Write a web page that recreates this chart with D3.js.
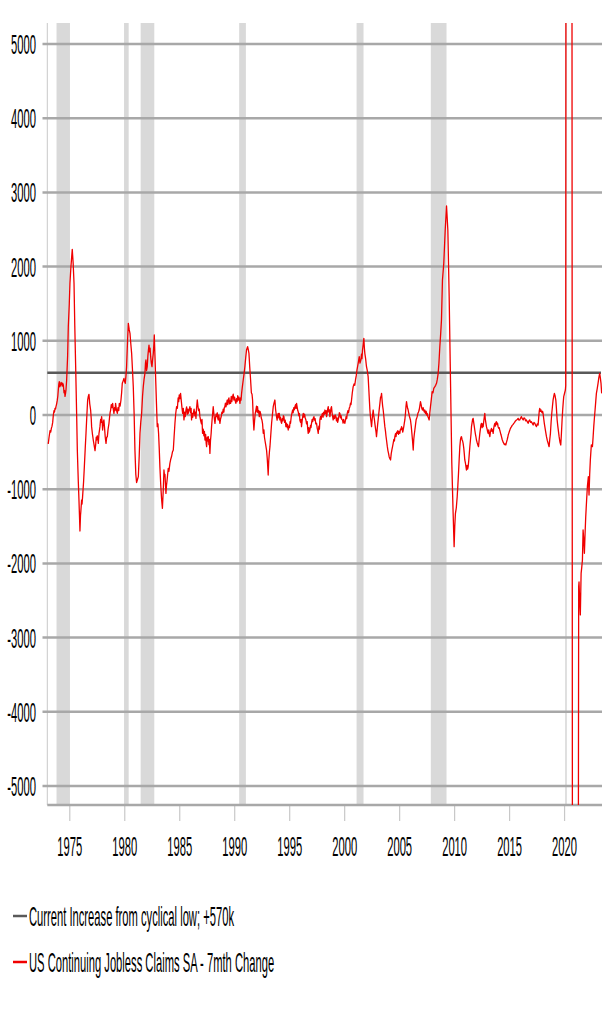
<!DOCTYPE html>
<html><head><meta charset="utf-8">
<script src="https://cdn.jsdelivr.net/npm/d3@7"></script>
<style>body{margin:0;background:#fff}</style>
</head><body>
<svg id="chart" width="616" height="1022"></svg>
<script>
// ---------------- data ----------------
const yTickValues = [5000, 4000, 3000, 2000, 1000, 0, -1000, -2000, -3000, -4000, -5000];
const xTickYears = [1975, 1980, 1985, 1990, 1995, 2000, 2005, 2010, 2015, 2020];
const recessionStart = [1973.84, 1979.98, 1981.49, 1990.45, 2001.13, 2007.88, 2020.10];
const recessionEnd   = [1975.06, 1980.40, 1982.73, 1991.06, 2001.76, 2009.31, 2020.25];
const currentIncrease = 570;
const legendLabels = ["Current Increase from cyclical low; +570k", "US Continuing Jobless Claims SA - 7mth Change"];
// [decimal year, 7-month change in thousands]
const claimsChange7m = [
[1973.02,-380],[1973.09,-382],[1973.16,-300],[1973.25,-210],[1973.31,-230],[1973.37,-180],[1973.43,-150],[1973.49,-100],
[1973.55,0],[1973.61,60],[1973.66,40],[1973.70,90],[1973.75,80],[1973.79,112],[1973.85,150],[1973.91,200],[1973.96,260],
[1974.00,337],[1974.05,420],[1974.09,449],[1974.14,380],[1974.20,400],[1974.25,440],[1974.31,427],[1974.36,390],
[1974.40,430],[1974.46,404],[1974.52,300],[1974.57,330],[1974.61,250],[1974.66,290],[1974.70,337],[1974.76,472],
[1974.85,800],[1974.91,1190],[1975.00,1500],[1975.06,1775],[1975.15,2000],[1975.27,2233],[1975.35,2050],[1975.43,1775],
[1975.50,1200],[1975.58,651],[1975.67,0],[1975.73,-472],[1975.82,-900],[1975.88,-1146],[1975.97,-1563],[1976.02,-1350],
[1976.05,-1300],[1976.12,-1146],[1976.16,-1200],[1976.21,-1100],[1976.30,-900],[1976.37,-696],[1976.45,-450],
[1976.52,-247],[1976.60,0],[1976.67,202],[1976.73,250],[1976.79,279],[1976.86,150],[1976.94,67],[1977.00,-60],
[1977.03,-157],[1977.10,-250],[1977.18,-337],[1977.25,-400],[1977.34,-481],[1977.40,-400],[1977.45,-300],[1977.49,-337],
[1977.55,-280],[1977.60,-330],[1977.64,-382],[1977.70,-250],[1977.75,-200],[1977.79,-157],[1977.85,-60],[1977.90,-100],
[1977.94,-22],[1978.00,-120],[1978.03,-202],[1978.09,-100],[1978.15,-67],[1978.20,-160],[1978.27,-300],[1978.34,-382],
[1978.40,-300],[1978.46,-292],[1978.52,-200],[1978.57,-150],[1978.61,-112],[1978.67,-20],[1978.72,40],[1978.76,67],
[1978.82,140],[1978.88,100],[1978.94,157],[1979.00,80],[1979.06,22],[1979.12,100],[1979.17,60],[1979.21,157],
[1979.27,90],[1979.32,50],[1979.37,22],[1979.43,100],[1979.50,60],[1979.55,157],[1979.62,120],[1979.70,202],
[1979.76,300],[1979.82,427],[1979.90,460],[1979.97,494],[1980.03,450],[1980.09,427],[1980.15,520],[1980.21,651],
[1980.30,1000],[1980.37,1235],[1980.45,1150],[1980.52,1100],[1980.60,950],[1980.67,831],[1980.75,600],[1980.82,382],
[1980.90,0],[1980.97,-472],[1981.05,-800],[1981.12,-910],[1981.20,-870],[1981.28,-831],[1981.36,-550],[1981.43,-247],
[1981.50,-100],[1981.58,22],[1981.66,250],[1981.73,382],[1981.80,480],[1981.88,562],[1981.93,700],[1981.97,741],
[1982.03,600],[1982.09,651],[1982.15,800],[1982.20,880],[1982.25,943],[1982.30,850],[1982.35,900],[1982.40,786],
[1982.46,700],[1982.52,651],[1982.58,750],[1982.64,831],[1982.69,950],[1982.73,1078],[1982.79,800],[1982.85,517],
[1982.93,150],[1983.00,-157],[1983.06,-120],[1983.12,-247],[1983.18,-450],[1983.24,-696],[1983.32,-950],[1983.40,-1146],
[1983.47,-1258],[1983.55,-1000],[1983.61,-741],[1983.66,-820],[1983.70,-800],[1983.79,-1056],[1983.84,-950],
[1983.88,-900],[1984.00,-720],[1984.06,-760],[1984.15,-651],[1984.22,-600],[1984.30,-560],[1984.38,-500],[1984.46,-472],
[1984.53,-300],[1984.61,-112],[1984.68,20],[1984.76,112],[1984.83,90],[1984.90,230],[1984.95,180],[1985.00,270],
[1985.06,220],[1985.12,292],[1985.18,200],[1985.24,110],[1985.31,22],[1985.37,90],[1985.43,-67],[1985.50,40],
[1985.55,-20],[1985.61,67],[1985.67,110],[1985.73,10],[1985.78,80],[1985.82,22],[1985.90,70],[1985.97,112],
[1986.03,30],[1986.08,90],[1986.12,-67],[1986.18,20],[1986.23,-30],[1986.28,22],[1986.35,80],[1986.42,-10],
[1986.47,40],[1986.52,-45],[1986.58,100],[1986.64,202],[1986.70,120],[1986.76,60],[1986.82,80],[1986.88,-22],
[1986.95,-80],[1987.02,-120],[1987.07,-60],[1987.12,-247],[1987.18,-190],[1987.24,-280],[1987.29,-220],[1987.34,-337],
[1987.40,-260],[1987.45,-380],[1987.49,-427],[1987.55,-300],[1987.60,-350],[1987.64,-292],[1987.70,-400],[1987.74,-330],
[1987.79,-517],[1987.84,-350],[1987.90,-250],[1987.94,-157],[1988.00,-40],[1988.04,20],[1988.09,112],[1988.14,30],
[1988.20,-60],[1988.25,-112],[1988.30,-40],[1988.35,10],[1988.40,-22],[1988.46,30],[1988.50,-40],[1988.55,-67],
[1988.60,0],[1988.65,-60],[1988.70,-112],[1988.76,-50],[1988.82,-20],[1988.88,40],[1988.94,22],[1989.00,80],
[1989.06,40],[1989.10,100],[1989.15,112],[1989.20,160],[1989.25,110],[1989.31,157],[1989.36,200],[1989.41,140],
[1989.46,202],[1989.52,230],[1989.57,150],[1989.62,190],[1989.67,157],[1989.73,250],[1989.78,180],[1989.85,247],
[1989.91,280],[1989.97,202],[1990.03,240],[1990.09,190],[1990.15,157],[1990.21,220],[1990.26,180],[1990.32,260],
[1990.37,202],[1990.43,240],[1990.48,200],[1990.52,157],[1990.58,230],[1990.62,200],[1990.67,292],[1990.74,380],
[1990.82,472],[1990.90,560],[1990.97,651],[1991.05,780],[1991.12,876],[1991.17,900],[1991.22,921],[1991.28,880],
[1991.34,831],[1991.41,650],[1991.49,472],[1991.56,300],[1991.62,280],[1991.67,202],[1991.73,-50],[1991.79,-202],
[1991.85,-80],[1991.91,20],[1991.97,67],[1992.03,120],[1992.08,40],[1992.12,112],[1992.18,30],[1992.23,60],
[1992.28,-22],[1992.34,50],[1992.40,22],[1992.46,-40],[1992.52,-67],[1992.58,-120],[1992.64,-247],[1992.70,-200],
[1992.75,-300],[1992.79,-337],[1992.86,-400],[1992.94,-472],[1993.00,-580],[1993.05,-700],[1993.09,-809],[1993.14,-620],
[1993.20,-500],[1993.25,-427],[1993.32,-280],[1993.40,-112],[1993.46,-20],[1993.50,40],[1993.55,112],[1993.62,160],
[1993.70,202],[1993.76,80],[1993.80,30],[1993.85,-22],[1993.90,-70],[1993.95,-10],[1994.00,22],[1994.06,-40],
[1994.10,20],[1994.15,-67],[1994.21,-30],[1994.26,-90],[1994.31,-112],[1994.37,-50],[1994.42,-80],[1994.47,-10],
[1994.52,-22],[1994.58,-100],[1994.64,-70],[1994.70,-157],[1994.76,-110],[1994.82,-170],[1994.86,-130],[1994.91,-202],
[1994.97,-150],[1995.03,-170],[1995.08,-90],[1995.12,-112],[1995.18,-30],[1995.24,20],[1995.31,67],[1995.36,30],
[1995.42,100],[1995.47,70],[1995.52,112],[1995.58,140],[1995.62,90],[1995.67,157],[1995.72,110],[1995.78,60],
[1995.82,45],[1995.88,-10],[1995.93,20],[1995.97,-67],[1996.03,-100],[1996.08,-60],[1996.12,-157],[1996.18,-80],
[1996.23,-20],[1996.28,22],[1996.34,-30],[1996.40,10],[1996.46,-40],[1996.52,-67],[1996.58,-120],[1996.64,-90],
[1996.68,-180],[1996.73,-247],[1996.78,-170],[1996.83,-230],[1996.88,-202],[1996.94,-140],[1996.98,-170],[1997.03,-112],
[1997.09,-60],[1997.14,-90],[1997.20,-40],[1997.25,-22],[1997.31,-70],[1997.36,-50],[1997.42,-120],[1997.49,-112],
[1997.55,-180],[1997.60,-210],[1997.64,-247],[1997.70,-150],[1997.75,-190],[1997.79,-67],[1997.85,-20],[1997.91,-60],
[1997.97,0],[1998.03,22],[1998.08,-30],[1998.14,40],[1998.20,10],[1998.25,67],[1998.31,20],[1998.36,60],
[1998.40,-22],[1998.46,30],[1998.50,80],[1998.55,112],[1998.60,40],[1998.66,70],[1998.70,-22],[1998.76,40],
[1998.80,90],[1998.85,112],[1998.90,30],[1998.95,-20],[1999.00,-67],[1999.06,-10],[1999.12,-50],[1999.18,0],
[1999.25,-22],[1999.30,-80],[1999.36,-40],[1999.41,-100],[1999.46,-67],[1999.52,-20],[1999.56,30],[1999.61,22],
[1999.67,-40],[1999.72,-10],[1999.78,-60],[1999.85,-67],[1999.90,-110],[1999.95,-60],[2000.00,-90],[2000.06,-112],
[2000.12,-70],[2000.18,-20],[2000.23,-50],[2000.28,22],[2000.34,60],[2000.40,30],[2000.46,90],[2000.52,112],
[2000.58,160],[2000.62,140],[2000.67,202],[2000.74,300],[2000.82,382],[2000.90,420],[2000.96,400],[2001.03,472],
[2001.10,530],[2001.16,600],[2001.22,651],[2001.30,720],[2001.37,786],[2001.44,700],[2001.52,741],[2001.58,820],
[2001.62,760],[2001.67,876],[2001.73,950],[2001.79,1033],[2001.84,900],[2001.88,831],[2001.95,760],[2002.03,651],
[2002.10,600],[2002.18,517],[2002.24,350],[2002.30,180],[2002.34,67],[2002.40,-40],[2002.45,-100],[2002.49,-157],
[2002.55,-50],[2002.60,20],[2002.64,67],[2002.70,-20],[2002.75,-60],[2002.79,-112],[2002.85,-180],[2002.90,-230],
[2002.94,-292],[2003.00,-200],[2003.05,-120],[2003.09,-67],[2003.15,20],[2003.20,90],[2003.25,157],[2003.31,240],
[2003.36,250],[2003.40,292],[2003.46,180],[2003.50,120],[2003.55,67],[2003.61,-20],[2003.66,-100],[2003.70,-157],
[2003.76,-220],[2003.80,-280],[2003.85,-337],[2003.92,-420],[2003.98,-480],[2004.04,-520],[2004.09,-562],[2004.16,-590],
[2004.22,-607],[2004.28,-520],[2004.34,-470],[2004.40,-427],[2004.46,-380],[2004.52,-330],[2004.57,-350],[2004.61,-292],
[2004.67,-250],[2004.72,-290],[2004.77,-230],[2004.82,-247],[2004.88,-210],[2004.94,-260],[2005.00,-220],[2005.06,-247],
[2005.12,-190],[2005.17,-200],[2005.22,-157],[2005.28,-180],[2005.33,-230],[2005.37,-202],[2005.43,-150],[2005.48,-100],
[2005.52,-67],[2005.58,30],[2005.62,110],[2005.67,180],[2005.72,130],[2005.77,90],[2005.82,67],[2005.88,20],
[2005.94,-20],[2006.03,-67],[2006.10,-150],[2006.16,-250],[2006.22,-350],[2006.28,-472],[2006.33,-330],[2006.38,-260],
[2006.43,-202],[2006.49,-130],[2006.55,-60],[2006.60,-40],[2006.64,-22],[2006.70,20],[2006.76,40],[2006.82,67],
[2006.88,120],[2006.94,180],[2007.00,140],[2007.06,90],[2007.12,67],[2007.18,100],[2007.24,60],[2007.29,40],
[2007.34,67],[2007.40,20],[2007.46,50],[2007.50,0],[2007.55,22],[2007.61,-20],[2007.67,-40],[2007.73,-67],
[2007.79,30],[2007.85,112],[2007.92,200],[2008.00,314],[2008.08,300],[2008.15,360],[2008.25,382],[2008.32,400],
[2008.40,427],[2008.47,480],[2008.55,562],[2008.62,700],[2008.70,921],[2008.78,1100],[2008.85,1280],[2008.94,1819],
[2009.06,2044],[2009.19,2493],[2009.31,2817],[2009.43,2493],[2009.55,1595],[2009.67,472],[2009.79,-651],
[2009.91,-1325],[2010.00,-1774],[2010.06,-1500],[2010.12,-1325],[2010.20,-1250],[2010.28,-1101],[2010.34,-950],
[2010.40,-786],[2010.46,-600],[2010.52,-427],[2010.58,-330],[2010.63,-300],[2010.67,-292],[2010.72,-330],
[2010.77,-350],[2010.82,-382],[2010.88,-450],[2010.93,-530],[2010.97,-606],[2011.03,-650],[2011.08,-700],
[2011.12,-741],[2011.18,-680],[2011.23,-730],[2011.28,-696],[2011.34,-600],[2011.38,-520],[2011.43,-427],
[2011.49,-330],[2011.54,-250],[2011.58,-157],[2011.64,-100],[2011.68,-60],[2011.73,-45],[2011.78,-100],[2011.83,-150],
[2011.88,-202],[2011.93,-250],[2011.98,-290],[2012.03,-337],[2012.09,-370],[2012.15,-400],[2012.22,-427],[2012.28,-330],
[2012.34,-247],[2012.40,-180],[2012.44,-130],[2012.49,-112],[2012.55,-170],[2012.60,-120],[2012.64,-157],[2012.70,-80],
[2012.75,-20],[2012.79,22],[2012.84,-60],[2012.88,-100],[2012.94,-157],[2013.00,-190],[2013.04,-220],[2013.09,-247],
[2013.15,-200],[2013.20,-260],[2013.25,-292],[2013.30,-230],[2013.35,-200],[2013.40,-180],[2013.45,-220],[2013.50,-200],
[2013.55,-247],[2013.60,-180],[2013.65,-140],[2013.70,-112],[2013.75,-150],[2013.80,-100],[2013.85,-90],[2013.90,-130],
[2013.95,-110],[2014.00,-157],[2014.06,-180],[2014.10,-170],[2014.15,-202],[2014.20,-230],[2014.25,-260],[2014.31,-292],
[2014.37,-330],[2014.42,-350],[2014.47,-370],[2014.52,-382],[2014.58,-400],[2014.64,-390],[2014.70,-404],[2014.76,-370],
[2014.82,-337],[2014.88,-300],[2014.92,-270],[2014.97,-247],[2015.03,-220],[2015.10,-190],[2015.16,-170],[2015.22,-157],
[2015.28,-140],[2015.35,-130],[2015.43,-112],[2015.50,-100],[2015.58,-80],[2015.67,-67],[2015.75,-60],[2015.82,-45],
[2015.90,-70],[2015.97,-67],[2016.05,-40],[2016.12,-22],[2016.20,-50],[2016.28,-67],[2016.35,-40],[2016.43,-45],
[2016.50,-80],[2016.58,-67],[2016.65,-90],[2016.73,-112],[2016.80,-80],[2016.88,-67],[2016.95,-100],[2017.03,-90],
[2017.10,-110],[2017.19,-135],[2017.26,-100],[2017.34,-112],[2017.42,-140],[2017.49,-157],[2017.56,-120],[2017.64,-135],
[2017.70,-20],[2017.75,60],[2017.79,90],[2017.85,50],[2017.90,70],[2017.94,45],[2018.00,30],[2018.05,50],
[2018.09,22],[2018.15,-50],[2018.20,-110],[2018.25,-157],[2018.32,-220],[2018.40,-292],[2018.47,-340],[2018.55,-380],
[2018.60,-410],[2018.64,-427],[2018.70,-330],[2018.76,-247],[2018.82,-100],[2018.88,20],[2018.94,112],[2019.00,200],
[2019.06,250],[2019.12,292],[2019.18,260],[2019.25,202],[2019.30,100],[2019.37,-67],[2019.43,-150],[2019.49,-220],
[2019.55,-292],[2019.62,-360],[2019.70,-404],[2019.76,-250],[2019.82,-67],[2019.88,80],[2019.93,180],[2019.97,247],
[2020.04,290],[2020.12,337],[2020.15,400],[2020.17,6000],
[2020.25,14000],[2020.35,18000],[2020.45,17000],[2020.55,13000],[2020.65,9000],[2020.72,6000],[2020.76,-6500],
[2020.85,-12000],[2021.00,-15000],[2021.15,-12000],[2021.29,-7000],[2021.33,-2313],[2021.36,-2250],[2021.42,-2500],
[2021.48,-2695],[2021.55,-2134],[2021.61,-2050],[2021.67,-1954],[2021.73,-1550],[2021.80,-1700],[2021.85,-1864],
[2021.91,-1600],[2021.97,-1370],[2022.05,-1150],[2022.12,-966],[2022.21,-831],[2022.27,-1078],[2022.33,-800],
[2022.39,-606],[2022.48,-404],[2022.58,-427],[2022.64,-300],[2022.70,-157],[2022.76,-40],[2022.82,67],[2022.88,180],
[2022.94,292],[2023.02,360],[2023.09,427],[2023.16,500],[2023.24,562],[2023.30,500],[2023.36,427],[2023.42,292]
];

// ---------------- layout ----------------
const plotLeft = 47.3, plotRight = 602, plotTop = 23, plotBottom = 805;
const FS = 28, SX = 0.40, FONT = "'Liberation Sans', Arial, sans-serif";

const svg = d3.select("#chart");
const x = d3.scaleLinear().domain([1973.0, 2023.45]).range([plotLeft, plotRight]);
const y = d3.scaleLinear().domain([-5000, 5000]).range([786, 44]);

svg.append("defs").append("clipPath").attr("id", "plotclip")
  .append("rect").attr("x", plotLeft).attr("y", plotTop)
  .attr("width", plotRight - plotLeft).attr("height", plotBottom - plotTop);

// recession bars
svg.append("g").selectAll("rect").data(recessionStart).join("rect")
  .attr("x", (d) => x(d)).attr("y", plotTop)
  .attr("width", (d, i) => Math.max(1.5, x(recessionEnd[i]) - x(d)))
  .attr("height", plotBottom - plotTop)
  .attr("fill", "#d9d9d9");

// left axis line
svg.append("line").attr("x1", plotLeft).attr("x2", plotLeft).attr("y1", plotTop).attr("y2", plotBottom)
  .attr("stroke", "#c8c8c8").attr("stroke-width", 1);

// horizontal gridlines
svg.append("g").selectAll("line").data(yTickValues).join("line")
  .attr("x1", 42.5).attr("x2", plotRight)
  .attr("y1", (d) => y(d)).attr("y2", (d) => y(d))
  .attr("stroke", "#a8a8a8").attr("stroke-width", 2.5);

// y labels
svg.append("g").selectAll("text").data(yTickValues).join("text")
  .attr("transform", (d) => `translate(36,${y(d) + 10}) scale(${SX},1)`)
  .attr("text-anchor", "end").attr("font-family", FONT).attr("font-size", FS)
  .attr("fill", "#000").text((d) => d);

// x axis
const xAxis = d3.axisBottom(x).tickValues(xTickYears).tickSize(16).tickFormat(d3.format("d"));
const gx = svg.append("g").attr("transform", `translate(0,${plotBottom})`).call(xAxis);
gx.select(".domain").remove();
gx.selectAll(".tick line").attr("stroke", "#c8c8c8").attr("stroke-width", 1.2);
gx.selectAll(".tick text").attr("y", null).attr("dy", null)
  .attr("transform", `translate(0,51) scale(${SX},1)`)
  .attr("font-family", FONT).attr("font-size", FS).attr("fill", "#000");
svg.append("line").attr("x1", plotLeft).attr("x2", plotRight).attr("y1", plotBottom).attr("y2", plotBottom)
  .attr("stroke", "#a8a8a8").attr("stroke-width", 2.5);

// current increase line
svg.append("line").attr("x1", plotLeft).attr("x2", 601)
  .attr("y1", y(currentIncrease)).attr("y2", y(currentIncrease))
  .attr("stroke", "#595959").attr("stroke-width", 2.6);

// claims line
const line = d3.line().x((d) => x(d[0])).y((d) => y(d[1]));
svg.append("path").datum(claimsChange7m).attr("clip-path", "url(#plotclip)")
  .attr("d", line).attr("fill", "none").attr("stroke", "#f00000").attr("stroke-width", 1.3)
  .attr("stroke-linejoin", "round");

// legend
const legendColors = ["#595959", "#f00000"];
const legendY = [916, 962];
const lg = svg.append("g");
lg.selectAll("line").data(legendLabels).join("line")
  .attr("x1", 13).attr("x2", 27).attr("y1", (d, i) => legendY[i]).attr("y2", (d, i) => legendY[i])
  .attr("stroke", (d, i) => legendColors[i]).attr("stroke-width", 2.5);
lg.selectAll("text").data(legendLabels).join("text")
  .attr("transform", (d, i) => `translate(29,${legendY[i] + 9.5}) scale(${SX},1)`)
  .attr("font-family", FONT).attr("font-size", FS).attr("fill", "#000").text((d) => d);
</script>
</body></html>
